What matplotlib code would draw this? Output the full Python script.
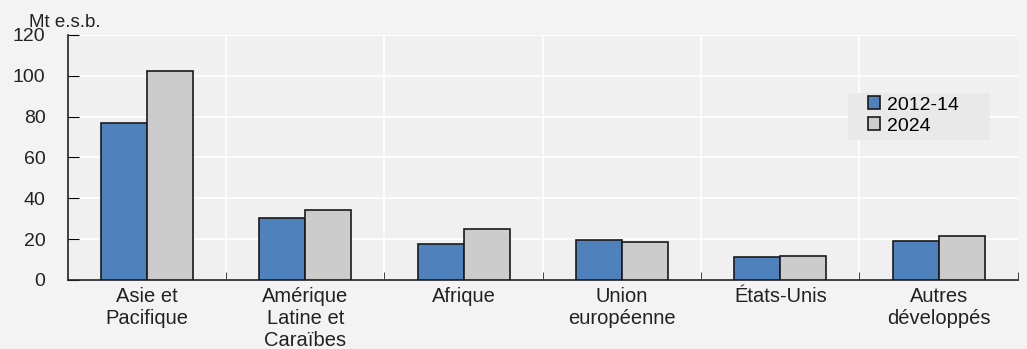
import numpy as np
import matplotlib.pyplot as plt
from matplotlib.patches import Rectangle

plt.rcParams['font.family'] = ['Liberation Sans', 'DejaVu Sans']

regions = ['Asie et\nPacifique', 'Amérique\nLatine et\nCaraïbes', 'Afrique',
           'Union\neuropéenne', 'États-Unis', 'Autres\ndéveloppés']
base_2012_14 = [76.7, 30.4, 17.6, 19.6, 11.1, 19.1]
proj_2024 = [102.4, 34.3, 25.0, 18.5, 11.8, 21.7]

fig = plt.figure(figsize=(10.27, 3.49), dpi=100)
fig.patch.set_facecolor('#f3f3f3')
ax = fig.add_axes([0.066, 0.198, 0.925, 0.702])
ax.set_facecolor('#f0f0f0')

x = np.arange(len(regions))
w = 0.29
ax.bar(x - w / 2, base_2012_14, w, color='#4f81bd', edgecolor='#1a1a1a',
       linewidth=1.2, label='2012-14', zorder=3)
ax.bar(x + w / 2, proj_2024, w, color='#cccccc', edgecolor='#1a1a1a',
       linewidth=1.2, label='2024', zorder=3)

ax.set_xlim(-0.5, len(regions) - 0.5)
ax.set_ylim(0, 120)
ax.set_yticks(range(0, 121, 20))
ax.set_xticks(x)
ax.set_xticklabels(regions, fontsize=14.5, color='#222222', linespacing=1.2)
ax.set_xticks(np.arange(0.5, len(regions), 1), minor=True)

ax.grid(axis='y', color='white', linewidth=1.2, zorder=0)
for b in np.arange(0.5, len(regions) - 0.5, 1):
    ax.axvline(b, color='white', linewidth=1.2, zorder=0)

for s in ['top', 'right']:
    ax.spines[s].set_visible(False)
for s in ['left', 'bottom']:
    ax.spines[s].set_color('#222222')
    ax.spines[s].set_linewidth(1.2)

ax.tick_params(axis='y', direction='in', length=8, labelsize=14,
               labelcolor='#222222', pad=16)
ax.tick_params(axis='x', which='major', length=0, pad=5)
ax.tick_params(axis='x', which='minor', direction='in', length=6, color='#222222')

fig.text(0.028, 0.922, 'Mt e.s.b.', fontsize=13.5, color='#222222')

# legend panel behind the entries
ax.add_patch(Rectangle((0.8257, 0.599), 0.1383, 0.135, transform=fig.transFigure,
                       facecolor='#e9e9e9', edgecolor='none', zorder=4,
                       clip_on=False))
leg = ax.legend(loc='upper left', bbox_to_anchor=(0.842, 0.749), fontsize=14,
                frameon=False, handlelength=0.62, handleheight=0.62,
                handletextpad=0.4, labelspacing=0.2, borderpad=0,
                borderaxespad=0)
leg.set_zorder(5)

fig.savefig('out.png', dpi=100)
